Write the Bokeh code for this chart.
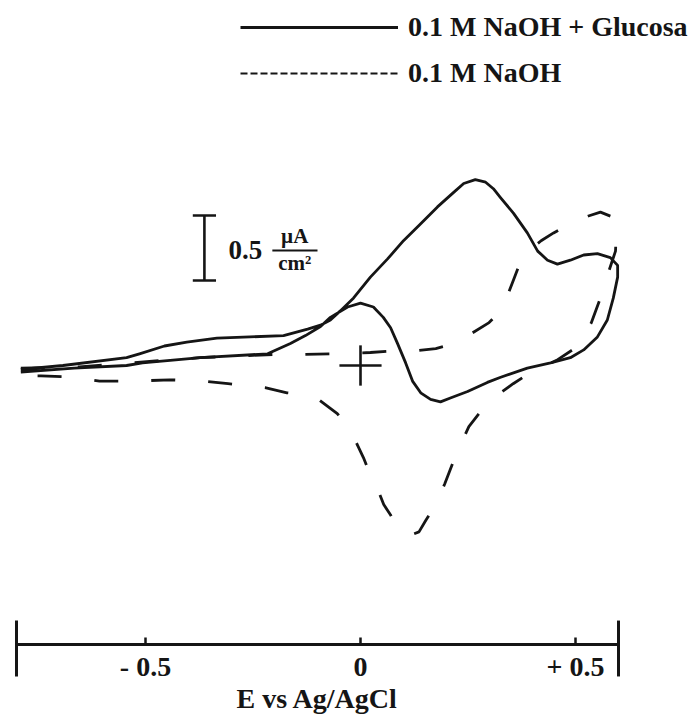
from bokeh.plotting import figure
from bokeh.models import Range1d, LinearAxis, FixedTicker, Legend, LegendItem, Label
from bokeh.embed import file_html
from bokeh.resources import INLINE

# ---- data (E in V vs Ag/AgCl, current density in uA/cm2) ----
# 0.1 M NaOH + Glucosa (solid): forward scan, then reverse scan
glu_E = [-0.79, -0.692, -0.544, -0.514, -0.456, -0.404, -0.334, -0.257, -0.179, -0.123,
         -0.093, -0.070, -0.047, -0.016, 0.023, 0.063, 0.100, 0.140, 0.179, 0.216,
         0.240, 0.267, 0.291, 0.309, 0.326, 0.356, 0.388, 0.412, 0.435, 0.458,
         0.488, 0.519, 0.551, 0.581, 0.598, 0.598,
         0.588, 0.574, 0.551, 0.519, 0.488, 0.442, 0.388, 0.326, 0.295, 0.249,
         0.209, 0.186, 0.163, 0.140, 0.121, 0.105, 0.086, 0.070, 0.053, 0.030,
         0.000, -0.030, -0.070, -0.093, -0.128, -0.163, -0.216, -0.372, -0.507, -0.544,
         -0.666, -0.790]
glu_I = [-0.03, 0.00, 0.06, 0.09, 0.15, 0.18, 0.21, 0.22, 0.23, 0.28,
         0.31, 0.35, 0.42, 0.52, 0.68, 0.82, 0.96, 1.09, 1.22, 1.33,
         1.40, 1.43, 1.41, 1.36, 1.29, 1.17, 1.02, 0.88, 0.81, 0.78,
         0.81, 0.85, 0.86, 0.83, 0.77, 0.68,
         0.52, 0.35, 0.22, 0.12, 0.06, 0.02, -0.02, -0.09, -0.13, -0.20,
         -0.25, -0.28, -0.26, -0.21, -0.12, 0.02, 0.17, 0.29, 0.37, 0.45,
         0.48, 0.45, 0.37, 0.30, 0.23, 0.17, 0.09, 0.06, 0.02, 0.00,
         -0.02, -0.05]

# 0.1 M NaOH (dashed)
naoh_E = [-0.79, -0.654, -0.537, -0.374, -0.203, -0.140, -0.058, 0.023, 0.093, 0.133,
          0.175, 0.209, 0.260, 0.299, 0.320, 0.342, 0.356, 0.370, 0.391, 0.420,
          0.449, 0.493, 0.530, 0.558, 0.588, 0.595,
          0.593, 0.577, 0.558, 0.537, 0.502, 0.456, 0.397, 0.355, 0.297, 0.252,
          0.224, 0.196, 0.175, 0.152, 0.136, 0.112, 0.086, 0.070, 0.054, 0.035,
          0.019, 0.007, -0.016, -0.035, -0.054, -0.098, -0.140, -0.171, -0.222, -0.308,
          -0.367, -0.444, -0.521, -0.607, -0.666, -0.743, -0.790, -0.790]
naoh_I = [-0.02, -0.01, 0.02, 0.06, 0.085, 0.085, 0.09, 0.10, 0.115, 0.115,
          0.13, 0.16, 0.25, 0.33, 0.40, 0.54, 0.66, 0.78, 0.88, 0.96,
          1.02, 1.10, 1.15, 1.18, 1.14, 1.02,
          0.88, 0.72, 0.52, 0.33, 0.14, 0.04, -0.05, -0.14, -0.28, -0.47,
          -0.67, -0.91, -1.07, -1.19, -1.28, -1.31, -1.25, -1.15, -1.07, -0.91,
          -0.81, -0.71, -0.55, -0.45, -0.37, -0.26, -0.22, -0.21, -0.17, -0.14,
          -0.12, -0.11, -0.12, -0.12, -0.09, -0.08, -0.08, -0.02]

series_labels = ["0.1 M NaOH + Glucosa", "0.1 M NaOH"]
tick_values = [-0.5, 0, 0.5]
tick_labels = {-0.5: "- 0.5", 0: "0", 0.5: "+ 0.5"}
axis_ends = [-0.8, 0.6]
axis_title = "E vs Ag/AgCl"
scale_value = 0.5          # scale bar, uA/cm2
scale_unit_top = "µA"
scale_unit_bottom = "cm²"

# ---- figure ----
FONT = "Liberation Serif"
INK = "#151515"

p = figure(width=693, height=716, output_backend="svg", toolbar_location=None,
           x_range=Range1d(-0.8372, 0.7744), y_range=Range1d(-2.700, 2.8077),
           x_axis_location=None, y_axis_location=None, min_border=0)
p.outline_line_color = None
p.xgrid.visible = False
p.ygrid.visible = False
p.background_fill_color = "white"
p.border_fill_color = "white"

r_glu = p.line(glu_E, glu_I, line_color=INK, line_width=2.8, line_join="round")
r_naoh = p.line(naoh_E, naoh_I, line_color=INK, line_width=2.8, line_dash="24 33",
                line_join="round")

# crosshair at the origin (E = 0, I = 0)
p.segment(x0=[-0.049, 0.0], y0=[0.0, -0.155], x1=[0.049, 0.0], y1=[0.0, 0.155],
          line_color=INK, line_width=2.6)

# potential axis drawn at a fixed current level
AXIS_I = -2.146
ax = LinearAxis(fixed_location=AXIS_I, bounds=(axis_ends[0], axis_ends[1]),
                ticker=FixedTicker(ticks=tick_values))
ax.major_label_overrides = tick_labels
ax.axis_line_width = 3
ax.axis_line_color = INK
ax.major_tick_in = 7
ax.major_tick_out = 0
ax.major_tick_line_width = 2.5
ax.major_tick_line_color = INK
ax.minor_tick_line_color = None
ax.major_label_standoff = 7
ax.major_label_text_font = FONT
ax.major_label_text_font_style = "bold"
ax.major_label_text_font_size = "28px"
ax.major_label_text_color = INK
ax.axis_label = axis_title
ax.axis_label_standoff = -3
ax.axis_label_text_font = FONT
ax.axis_label_text_font_style = "bold"
ax.axis_label_text_font_size = "28px"
ax.axis_label_text_color = INK
p.add_layout(ax, "below")

# long end caps of the axis
p.segment(x0=axis_ends, y0=[AXIS_I + 0.184] * 2, x1=axis_ends, y1=[AXIS_I - 0.246] * 2,
          line_color=INK, line_width=3)

# scale bar
sb_x = -0.363
sb_lo = 0.654
p.segment(x0=[sb_x, sb_x - 0.027, sb_x - 0.027], y0=[sb_lo, sb_lo, sb_lo + scale_value],
          x1=[sb_x, sb_x + 0.027, sb_x + 0.027], y1=[sb_lo + scale_value, sb_lo, sb_lo + scale_value],
          line_color=INK, line_width=2.6)
p.add_layout(Label(x=-0.307, y=0.885, text=str(scale_value), text_font=FONT,
                   text_font_style="bold", text_font_size="27px", text_color=INK,
                   text_align="left", text_baseline="middle"))
p.segment(x0=[-0.205], y0=[0.885], x1=[-0.100], y1=[0.885], line_color=INK, line_width=2)
p.add_layout(Label(x=-0.153, y=1.0, text=scale_unit_top, text_font=FONT,
                   text_font_style="bold", text_font_size="21px", text_color=INK,
                   text_align="center", text_baseline="middle"))
p.add_layout(Label(x=-0.153, y=0.785, text=scale_unit_bottom, text_font=FONT,
                   text_font_style="bold", text_font_size="21px", text_color=INK,
                   text_align="center", text_baseline="middle"))

# legend (dashed sample drawn with a fine dash, as in the original)
r_leg = p.line([float("nan")], [float("nan")], line_color=INK, line_width=2.2,
               line_dash="7 3")
legend = Legend(items=[LegendItem(label=series_labels[0], renderers=[r_glu]),
                       LegendItem(label=series_labels[1], renderers=[r_leg])],
                location=(240, 627), orientation="vertical",
                glyph_width=158, glyph_height=32, label_height=32, spacing=14,
                label_standoff=10, padding=0, margin=0,
                border_line_color=None, background_fill_alpha=0,
                label_text_font=FONT, label_text_font_style="bold",
                label_text_font_size="28px", label_text_color=INK,
                label_text_baseline="middle")
p.add_layout(legend)

open("out.html", "w").write(file_html(p, INLINE, title="Voltamograma"))
